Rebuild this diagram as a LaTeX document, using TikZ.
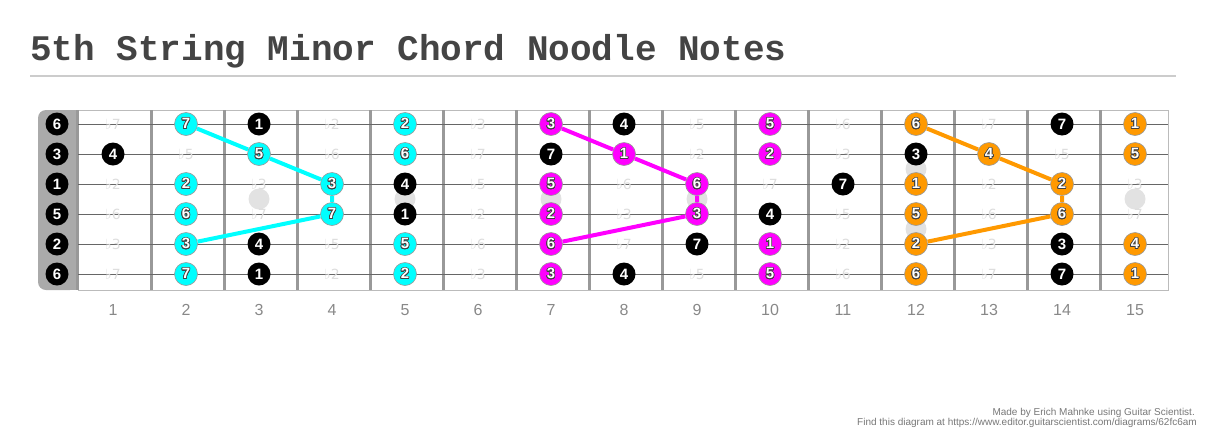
\documentclass[tikz,border=0pt]{standalone}
\usepackage{fontspec}
\usepackage[copies]{contour}
\setmainfont{Liberation Sans}
\newfontfamily\titlefont{Liberation Mono}
\newfontfamily\flatfont{DejaVu Sans}
\definecolor{notecyan}{HTML}{00FFFF}
\definecolor{notemag}{HTML}{FF00FF}
\definecolor{noteorg}{HTML}{FF9900}
\definecolor{ghostgray}{HTML}{DDDDDD}
\definecolor{inlaygray}{HTML}{E2E2E2}
\definecolor{fretgray}{HTML}{999999}
\definecolor{stringgray}{HTML}{666666}
\definecolor{nutgray}{HTML}{AAAAAA}
\definecolor{boardgray}{HTML}{BBBBBB}
\definecolor{titlegray}{HTML}{444444}
\definecolor{rulegray}{HTML}{CCCCCC}
\definecolor{numgray}{HTML}{888888}
\definecolor{footgray}{HTML}{777777}
\contourlength{0.7pt}
\newcommand\outl[1]{\contour{black!75}{#1}}

\begin{document}
\begin{tikzpicture}[x=1pt,y=-1pt,
note/.style={
	circle,inner sep=0pt,minimum size=23pt,
	font=\bfseries\fontsize{15}{15}\selectfont,text=white},
blk/.style={note,fill=black},
cyn/.style={note,fill=notecyan,draw=gray!80,line width=0.6pt},
mag/.style={note,fill=notemag,draw=gray!80,line width=0.6pt},
org/.style={note,fill=noteorg,draw=gray!80,line width=0.6pt},
ghost/.style={inner sep=0pt,font=\flatfont\fontsize{14}{14}\selectfont,text=ghostgray},
fretnum/.style={font=\fontsize{16}{16}\selectfont,text=numgray},
foot/.style={anchor=base east,inner sep=0pt,font=\fontsize{10}{10}\selectfont,text=footgray}
]
\tikzstyle{fretline}=[fretgray,line width=3pt]
\tikzstyle{stringline}=[stringgray,line width=0.9pt]
\tikzstyle{inlay}=[fill=inlaygray]
\tikzstyle{cynline}=[notecyan,line width=4pt]
\tikzstyle{magline}=[notemag,line width=4pt]
\tikzstyle{orgline}=[noteorg,line width=4pt]
\useasboundingbox (0,0) rectangle (1206,437);
\node[anchor=base west,inner sep=0pt,text=titlegray,
	font=\titlefont\bfseries\fontsize{36}{36}\selectfont] (title) at (30,60)
	{5th String Minor Chord Noodle Notes};
\draw[rulegray,line width=2pt] (30,75.5) -- (1176,75.5);
\fill[nutgray,rounded corners=8pt] (38,110) rectangle (78,290);
\fill[nutgray] (60,110) rectangle (78,290);
\draw[boardgray,line width=0.8pt] (78,110) rectangle (1168,290);
\draw[fretline] (77,110) -- (77,290);
\foreach \f in {1,...,14}
	\draw[fretline] (78+73*\f,110) -- (78+73*\f,290);
\foreach \f in {3,5,7,9,15}
	\fill[inlay] (40+73*\f,199) circle (10.5);
\fill[inlay] (916,169) circle (10.5);
\fill[inlay] (916,229) circle (10.5);
\foreach \r in {1,...,6}
	\draw[stringline] (78,94+30*\r) -- (1168,94+30*\r);
\foreach \r/\t in {1/6,2/3,3/1,4/5,5/2,6/6}
	\node[blk] (n\r-0) at (57,94+30*\r) {\t};
\foreach \r/\f/\t in {1/1/7,1/4/2,1/6/3,1/9/5,1/11/6,1/13/7,
	2/2/5,2/4/6,2/6/7,2/9/2,2/11/3,2/14/5,
	3/1/2,3/3/3,3/6/5,3/8/6,3/10/7,3/13/2,3/15/3,
	4/1/6,4/3/7,4/6/2,4/8/3,4/11/5,4/13/6,4/15/7,
	5/1/3,5/4/5,5/6/6,5/8/7,5/11/2,5/13/3,
	6/1/7,6/4/2,6/6/3,6/9/5,6/11/6,6/13/7}
	\node[ghost] (g\r-\f) at (40+73*\f,94+30*\r) {♭\t};
\foreach \r/\f/\t in {1/3/1,6/3/1,2/1/4,5/3/4,3/5/4,4/5/1,1/8/4,6/8/4,
	2/7/7,5/9/7,4/10/4,3/11/7,2/12/3,1/14/7,6/14/7,5/14/3}
	\node[blk] (n\r-\f) at (40+73*\f,94+30*\r) {\t};
\foreach \r/\f/\t in {1/2/7,2/3/5,3/2/2,3/4/3,4/2/6,4/4/7,5/2/3,6/2/7,
	1/5/2,2/5/6,5/5/5,6/5/2}
	\node[cyn] (n\r-\f) at (40+73*\f,94+30*\r) {\outl{\t}};
\foreach \r/\f/\t in {1/7/3,2/8/1,3/7/5,3/9/6,4/7/2,4/9/3,5/7/6,6/7/3,
	1/10/5,2/10/2,5/10/1,6/10/5}
	\node[mag] (n\r-\f) at (40+73*\f,94+30*\r) {\outl{\t}};
\foreach \r/\f/\t in {1/12/6,2/13/4,3/12/1,3/14/2,4/12/5,4/14/6,5/12/2,6/12/6,
	1/15/1,2/15/5,5/15/4,6/15/1}
	\node[org] (n\r-\f) at (40+73*\f,94+30*\r) {\outl{\t}};
\draw[cynline] (n1-2) -- (n2-3) -- (n3-4) -- (n4-4) -- (n5-2);
\draw[magline] (n1-7) -- (n2-8) -- (n3-9) -- (n4-9) -- (n5-7);
\draw[orgline] (n1-12) -- (n2-13) -- (n3-14) -- (n4-14) -- (n5-12);
\foreach \f in {1,...,15}
	\node[fretnum] (fret\f) at (40+73*\f,310) {\f};
\node[foot] (made) at (1195,415) {Made by Erich Mahnke using Guitar Scientist.};
\node[foot] (find) at (1197,425)
	{Find this diagram at https://www.editor.guitarscientist.com/diagrams/62fc6am};
\end{tikzpicture}
\end{document}
